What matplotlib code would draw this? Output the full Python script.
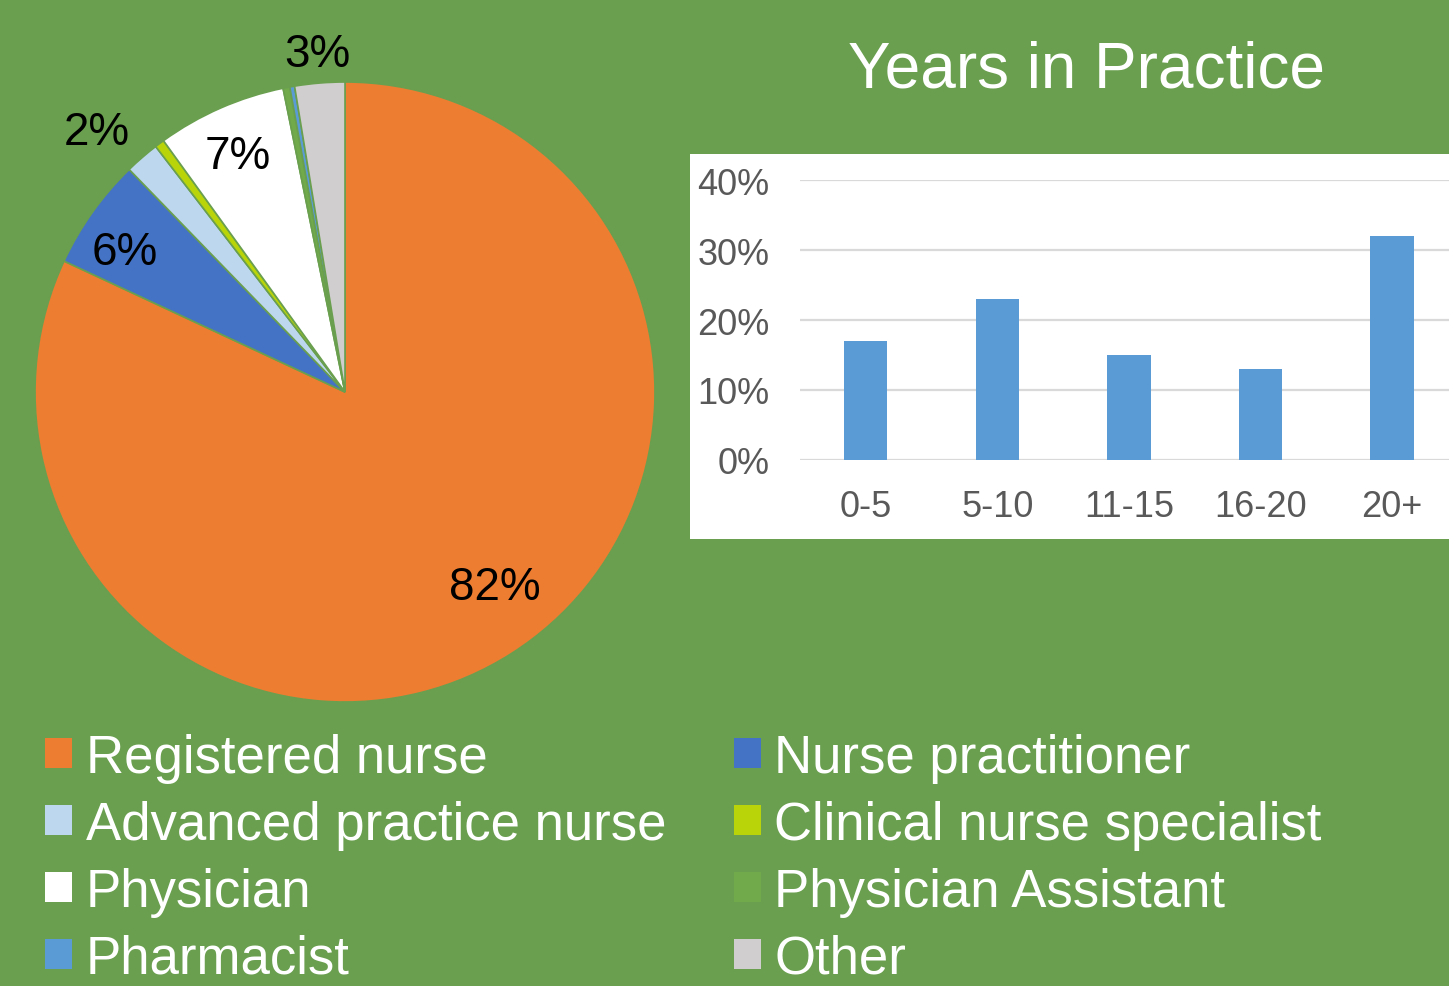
"""Survey respondents by role (pie) and years in practice (bar)."""
import matplotlib

matplotlib.use("Agg")
import matplotlib.pyplot as plt
import numpy as np
from matplotlib.patches import Patch, Rectangle
from matplotlib.ticker import PercentFormatter

# --- data -----------------------------------------------------------------
ROLES = ["Registered nurse", "Nurse practitioner", "Advanced practice nurse",
         "Clinical nurse specialist", "Physician", "Physician Assistant",
         "Pharmacist", "Other"]
ROLE_SHARE = [81.9, 5.8, 1.8, 0.5, 6.75, 0.35, 0.25, 2.6]

YEAR_BINS = ["0-5", "5-10", "11-15", "16-20", "20+"]
YEAR_SHARE = [17, 23, 15, 13, 32]

# --- style ----------------------------------------------------------------
BG = "#6A9F4F"
ROLE_COLORS = ["#ED7D31", "#4472C4", "#BDD7EE", "#B9D50A", "#FFFFFF",
               "#70AA4A", "#5B9BD5", "#D0CECE"]
BAR_COLOR = "#5B9BD5"
GRID = "#D9D9D9"
TICK = "#595959"
# shown pie labels: index -> (radius fraction, angle nudge in degrees)
LABEL_POS = {0: (0.78, 5.8), 1: (0.85, 2.0), 2: (1.17, 2.2),
             4: (0.85, 0.3), 7: (1.11, 0.0)}

plt.rcParams["font.family"] = ["Liberation Sans", "DejaVu Sans"]

W, H = 1449, 987
fig = plt.figure(figsize=(W / 100, H / 100), dpi=100, facecolor=BG)


def fig_box(x0, y0, x1, y1):
    """pixel box (top-left origin) -> figure-fraction rect"""
    return [x0 / W, 1 - y1 / H, (x1 - x0) / W, (y1 - y0) / H]


# --- pie ------------------------------------------------------------------
ax_pie = fig.add_axes(fig_box(35, 83, 655, 703))
wedges, _ = ax_pie.pie(ROLE_SHARE, colors=ROLE_COLORS, startangle=90,
                       counterclock=False, radius=1,
                       wedgeprops=dict(edgecolor=BG, linewidth=1.2))
ax_pie.set_xlim(-1, 1)
ax_pie.set_ylim(-1, 1)
ax_pie.set_aspect("equal")

for i, w in enumerate(wedges):
    if i not in LABEL_POS:
        continue
    r, nudge = LABEL_POS[i]
    mid = np.deg2rad((w.theta1 + w.theta2) / 2 + nudge)
    ax_pie.text(r * np.cos(mid), r * np.sin(mid), f"{ROLE_SHARE[i]:.0f}%",
                ha="center", va="center_baseline", fontsize=33,
                color="black")

# --- bar chart ------------------------------------------------------------
fig.add_artist(Rectangle((690 / W, 1 - 540 / H), (W - 690) / W, 385 / H,
                         transform=fig.transFigure, facecolor="white",
                         edgecolor="none", zorder=-1))
ax_bar = fig.add_axes(fig_box(800, 181, W, 461))
ax_bar.patch.set_visible(False)
x = np.arange(len(YEAR_BINS))
ax_bar.bar(x, YEAR_SHARE, width=0.33, color=BAR_COLOR, zorder=3)
ax_bar.set_xlim(-0.5, (W - 866) / 131.5)
ax_bar.set_ylim(0, 40)
ax_bar.set_yticks([0, 10, 20, 30, 40])
ax_bar.yaxis.set_major_formatter(PercentFormatter(decimals=0))
ax_bar.set_xticks(x, YEAR_BINS)
ax_bar.grid(axis="y", color=GRID, linewidth=1.6, zorder=0)
ax_bar.tick_params(axis="y", length=0, pad=22, labelsize=26, labelcolor=TICK)
ax_bar.tick_params(axis="x", length=0, pad=21, labelsize=26, labelcolor=TICK)
for spine in ax_bar.spines.values():
    spine.set_visible(False)

fig.text(1087 / W, 1 - 70 / H, "Years in Practice", ha="center", va="center",
         fontsize=46, color="white")

# --- legend (two columns, row-major like the original) --------------------
handles = [Patch(facecolor=c, edgecolor="none") for c in ROLE_COLORS]
order = [0, 2, 4, 6, 1, 3, 5, 7]
fig.legend([handles[i] for i in order], [ROLES[i] for i in order],
           ncol=2, loc="upper left", bbox_to_anchor=(45 / W, 1 - 734 / H),
           frameon=False, fontsize=38, labelcolor="white",
           handlelength=0.51, handleheight=0.51, handletextpad=0.26,
           labelspacing=0.32, columnspacing=1.28, borderpad=0,
           borderaxespad=0)

fig.savefig("out.png", dpi=100, facecolor=BG)
